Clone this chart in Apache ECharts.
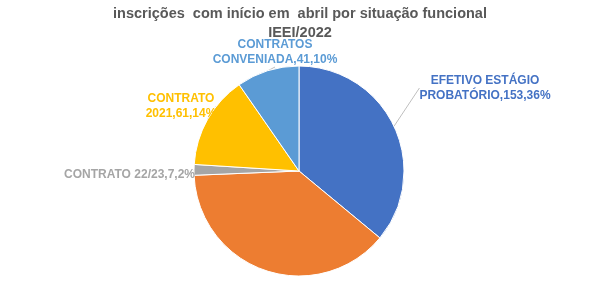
<!DOCTYPE html>
<html><head><meta charset="utf-8">
<script src="https://cdn.jsdelivr.net/npm/echarts@6/dist/echarts.min.js"></script>
<style>html,body{margin:0;padding:0;background:#fff}#c{width:600px;height:308px}</style>
</head><body><div id="c"></div>
<script>
const categories = ['EFETIVO ESTÁGIO\nPROBATÓRIO', 'EFETIVO', 'CONTRATO 22/23', 'CONTRATO\n2021', 'CONTRATOS\nCONVENIADA'];
const values = [153, 163, 7, 61, 41];
const showLabel = [true, false, true, true, true];
const colors = ['#4472C4', '#ED7D31', '#A5A5A5', '#FFC000', '#5B9BD5'];
const labelPos = [
  {x: 485, y: 88, align: 'center'},
  null,
  {x: 195, y: 175, align: 'right'},
  {x: 181, y: 106, align: 'center'},
  {x: 275, y: 52, align: 'center'}
];
const chart = echarts.init(document.getElementById('c'));
chart.setOption({
  animation: false,
  title: {
    text: 'inscrições  com início em  abril por situação funcional\nIEEI/2022',
    left: 'center', top: 4, padding: 0,
    textStyle: {fontFamily: 'Liberation Sans', fontSize: 14.5, fontWeight: 'bold', color: '#595959', lineHeight: 19, align: 'center'}
  },
  series: [{
    type: 'pie',
    center: [299, 171],
    radius: 105,
    startAngle: 90,
    clockwise: true,
    percentPrecision: 0,
    itemStyle: {borderColor: '#fff', borderWidth: 1},
    label: {
      formatter: '{b},{c},{d}%',
      fontFamily: 'Liberation Sans', fontSize: 12, fontWeight: 'bold', lineHeight: 15, align: 'center'
    },
    labelLine: {lineStyle: {color: '#BFBFBF', width: 1}, length: 10, length2: 0},
    labelLayout: function (p) {
      const lp = labelPos[p.dataIndex];
      if (!lp) return {};
      return {x: lp.x, y: lp.y, align: lp.align, verticalAlign: 'middle'};
    },
    data: categories.map((n, i) => ({
      name: n, value: values[i],
      itemStyle: {color: colors[i]},
      label: {show: showLabel[i], color: colors[i]},
      labelLine: {show: showLabel[i]}
    }))
  }]
});
</script></body></html>
